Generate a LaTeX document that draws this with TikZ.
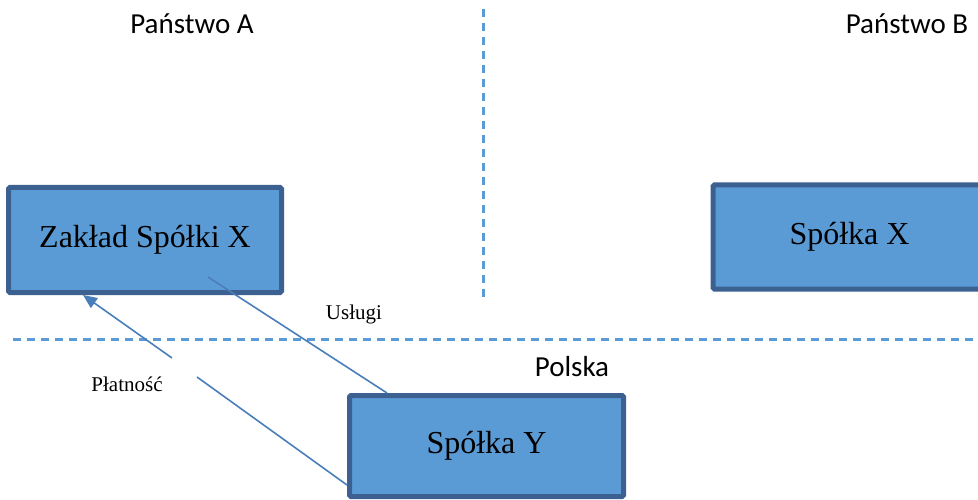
\documentclass[tikz,border=0pt]{standalone}
\usepackage{fontspec}
\setmainfont{Liberation Serif}
\newfontfamily\calibri{Carlito}
\usetikzlibrary{arrows.meta}
\definecolor{boxfill}{HTML}{5B9BD5}
\definecolor{boxline}{HTML}{3C6190}
\definecolor{conn}{HTML}{4A7EBB}
\definecolor{dash}{HTML}{5B9BD5}
\tikzset{
  entity/.style={draw=boxline, fill=boxfill, line width=5pt, rounded corners=1.5pt,
    minimum width=273pt, minimum height=104pt, inner sep=0pt,
    font=\fontsize{32}{36}\selectfont},
  region/.style={font=\calibri\fontsize{29}{33}\selectfont, inner sep=0pt},
  flowlabel/.style={font=\fontsize{21}{25}\selectfont, inner sep=0pt},
  border/.style={draw=dash, line width=2.2pt, dash pattern=on 8pt off 6pt},
  flow/.style={draw=conn, line width=1.6pt},
}
\begin{document}
\begin{tikzpicture}[x=1pt,y=-1pt]
\useasboundingbox (0,0) rectangle (978,500);
\clip (0,0) rectangle (978,500);
% borders
\coordinate (vtop) at (483.5,9);
\coordinate (vbot) at (483.5,297);
\coordinate (hl) at (13,339.5);
\coordinate (hr) at (990,339.5);
\draw[border] (vtop) -- (vbot);
\draw[border] (hl) -- (hr);
% region labels
\node[region] (pa) at (192,24) {Państwo A};
\node[region] (pb) at (907,24) {Państwo B};
\node[region] (pl) at (572,367) {Polska};
% boxes
\node[entity, minimum height=105pt] (zx) at (145,240) {Zakład Spółki X};
\node[entity] (sx) at (849.5,237) {Spółka X};
\node[entity, minimum width=274pt, minimum height=101pt] (sy) at (486.5,446) {Spółka Y};
% Usługi
\coordinate (us) at (208,277);
\draw[flow] (us) -- (sy.north west -| 387,0);
\node[flowlabel] (ul) at (354,314) {Usługi};
% Płatność
\coordinate (g1) at (172,358);
\coordinate (g2) at (197,377);
\draw[flow] (sy.west |- 0,485) -- (g2);
\draw[flow, -{Triangle[length=14pt,width=12pt]}] (g1) -- (zx.south -| 83,0);
\node[flowlabel] (plab) at (127,384) {Płatność};
\end{tikzpicture}
\end{document}
